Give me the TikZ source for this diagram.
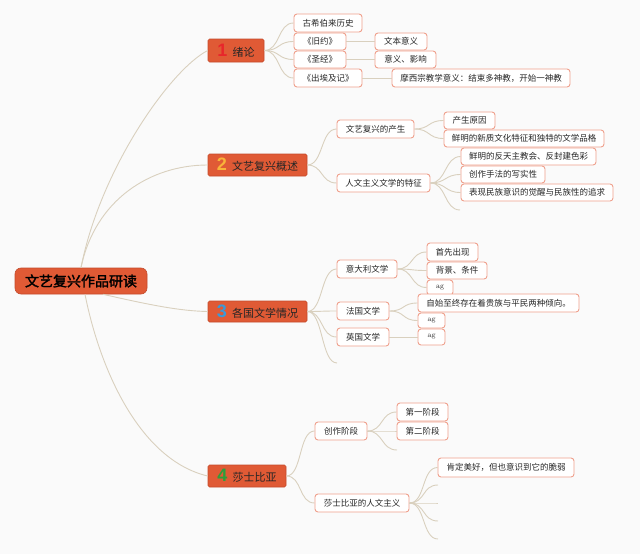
\documentclass[tikz,border=0pt]{standalone}
\usepackage{fontspec}
\newfontfamily\cjk{Noto Sans CJK SC}
\newfontfamily\cjkb{Noto Sans CJK SC}[FakeBold=2]
\newfontfamily\numf{Liberation Sans}
\definecolor{bgc}{HTML}{FAFAFA}
\definecolor{secfill}{HTML}{E05A35}
\definecolor{secdraw}{HTML}{C44B2C}
\definecolor{chdraw}{HTML}{EFA08C}
\definecolor{connc}{HTML}{D9D0BE}
\definecolor{numa}{HTML}{E8262B}
\definecolor{numb}{HTML}{F8B33A}
\definecolor{numc}{HTML}{3A9AD9}
\definecolor{numd}{HTML}{2E9E3A}
\newcommand\cbox[7][child]{\node[#1, minimum width={#5-#3}, minimum height={#6-#4}] (#2) at ({(#3+#5)/2},{(#4+#6)/2}) {#7};}
\newcommand\lnk[2]{\draw[conn] (#1.east) .. controls +(16,0) and +(-16,0) .. (#2.west);}
\newcommand\lnkc[2]{\draw[conn] (#1.east) .. controls +(16,0) and +(-16,0) .. (#2);}
\begin{document}
\begin{tikzpicture}[x=1pt,y=-1pt,
  child/.style={draw=chdraw, fill=white, rounded corners=3pt, line width=0.9pt, inner sep=0pt,
    font=\cjk\fontsize{8.5}{10}\selectfont, text=black!85},
  agbox/.style={child, font=\fontsize{7.5}{9}\selectfont},
  sec/.style={draw=secdraw, fill=secfill, rounded corners=1.5pt, line width=0.6pt, inner sep=0pt,
    font=\cjk\fontsize{11}{13}\selectfont, text=black!85},
  rootbox/.style={draw=secdraw, fill=secfill, rounded corners=6pt, line width=0.6pt, inner sep=0pt,
    font=\cjkb\fontsize{14}{16}\selectfont, text=black},
  conn/.style={draw=connc, line width=0.9pt}]
\fill[bgc] (0,0) rectangle (640,554);
\useasboundingbox (0,0) rectangle (640,554);
% root
\cbox[rootbox]{root}{15}{268}{147}{294}{文艺复兴作品研读}
% section nodes
\cbox[sec]{n1}{208}{39}{264}{62}{\textcolor{numa}{\numf\bfseries\fontsize{18}{18}\selectfont 1}\hspace{5pt}绪论}
\cbox[sec]{n2}{208}{154}{307}{176}{\textcolor{numb}{\numf\bfseries\fontsize{18}{18}\selectfont 2}\hspace{5pt}文艺复兴概述}
\cbox[sec]{n3}{208}{301}{307}{322}{\textcolor{numc}{\numf\bfseries\fontsize{18}{18}\selectfont 3}\hspace{5pt}各国文学情况}
\cbox[sec]{n4}{208}{465}{286}{487}{\textcolor{numd}{\numf\bfseries\fontsize{18}{18}\selectfont 4}\hspace{5pt}莎士比亚}
% root connectors
\draw[conn] (root.north) .. controls (100,170) and (170,70) .. (n1.west);
\draw[conn] (root.north) .. controls (95,200) and (150,165) .. (n2.west);
\draw[conn] ([xshift=22pt]root.south) .. controls (150,305) and (180,311) .. (n3.west);
\draw[conn] ([xshift=4pt]root.south) .. controls (100,370) and (140,460) .. (n4.west);
% section 1
\cbox{a1}{294}{14}{362}{32}{古希伯来历史}
\cbox{a2}{294}{33}{346}{50}{《旧约》}
\cbox{a3}{294}{51}{346}{68}{《圣经》}
\cbox{a4}{294}{69}{362}{87}{《出埃及记》}
\cbox{a2c}{375}{33}{427}{50}{文本意义}
\cbox{a3c}{375}{51}{436}{68}{意义、影响}
\cbox{a4c}{392}{69}{570}{87}{摩西宗教学意义：结束多神教，开始一神教}
\lnk{n1}{a1}\lnk{n1}{a2}\lnk{n1}{a3}\lnk{n1}{a4}
\draw[conn] (a2.east) -- (a2c.west);
\draw[conn] (a3.east) -- (a3c.west);
\draw[conn] (a4.east) -- (a4c.west);
% section 2
\cbox{b1}{337}{120}{414}{138}{文艺复兴的产生}
\cbox{b11}{444}{112}{495}{129}{产生原因}
\cbox{b12}{444}{130}{604}{147}{鲜明的新质文化特征和独特的文学品格}
\cbox{b2}{337}{174}{430}{192}{人文主义文学的特征}
\cbox{b21}{461}{148}{596}{165}{鲜明的反天主教会、反封建色彩}
\cbox{b22}{461}{166}{545}{183}{创作手法的写实性}
\cbox{b23}{461}{184}{613}{201}{表现民族意识的觉醒与民族性的追求}
\coordinate (b24) at (460,210);
\lnk{n2}{b1}\lnk{n2}{b2}
\lnk{b1}{b11}\lnk{b1}{b12}
\lnk{b2}{b21}\lnk{b2}{b22}\lnk{b2}{b23}\lnkc{b2}{b24}
% section 3
\cbox{c1}{337}{260}{397}{278}{意大利文学}
\cbox{c11}{427}{243}{478}{261}{首先出现}
\cbox{c12}{427}{262}{487}{279}{背景、条件}
\cbox[agbox]{c13}{427}{280}{453}{295}{ag}
\cbox{c2}{337}{302}{389}{320}{法国文学}
\cbox{c21}{418}{294}{579}{312}{自始至终存在着贵族与平民两种倾向。}
\cbox[agbox]{c22}{418}{313}{445}{328}{ag}
\cbox{c3}{337}{328}{389}{346}{英国文学}
\cbox[agbox]{c31}{418}{329}{445}{345}{ag}
\coordinate (c4) at (337,363);
\lnk{n3}{c1}\lnk{n3}{c2}\lnk{n3}{c3}\lnkc{n3}{c4}
\lnk{c1}{c11}\lnk{c1}{c12}\lnk{c1}{c13}
\lnk{c2}{c21}\lnk{c2}{c22}
\draw[conn] (c3.east) -- (c31.west);
% section 4
\cbox{d1}{315}{422}{367}{440}{创作阶段}
\cbox{d11}{397}{403}{448}{421}{第一阶段}
\cbox{d12}{397}{422}{448}{440}{第二阶段}
\coordinate (d13) at (397,450);
\cbox{d2}{315}{494}{409}{512}{莎士比亚的人文主义}
\cbox{d21}{438}{458}{574}{477}{肯定美好，但也意识到它的脆弱}
\coordinate (d22) at (438,485);
\coordinate (d23) at (438,503);
\coordinate (d24) at (438,521);
\coordinate (d25) at (438,539);
\lnk{n4}{d1}\lnk{n4}{d2}
\lnk{d1}{d11}\lnk{d1}{d12}\lnkc{d1}{d13}
\lnk{d2}{d21}\lnkc{d2}{d22}\lnkc{d2}{d23}\lnkc{d2}{d24}\lnkc{d2}{d25}
\end{tikzpicture}
\end{document}
